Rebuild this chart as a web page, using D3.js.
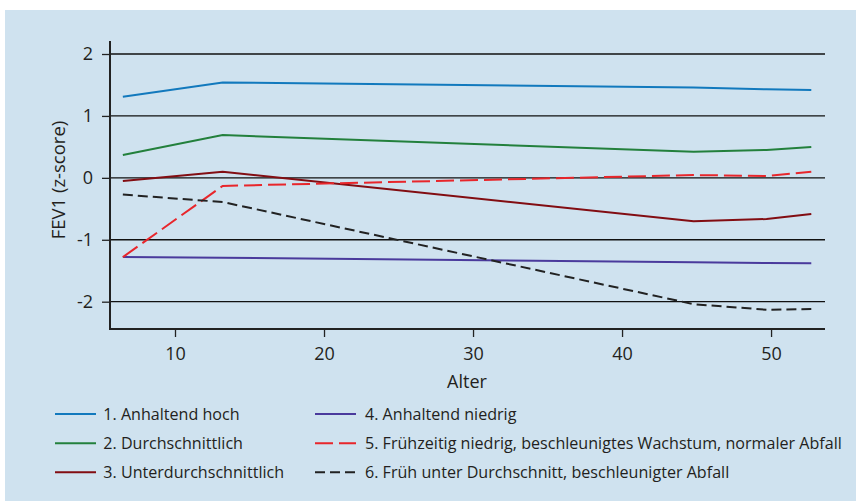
<!DOCTYPE html>
<html><head><meta charset="utf-8">
<script src="https://cdn.jsdelivr.net/npm/d3@7"></script>
<style>
html,body{margin:0;padding:0;background:#fff;}
svg{display:block;font-family:"Open Sans",sans-serif;}
</style></head>
<body>
<svg id="c" width="856" height="501"></svg>
<script>
const ages = [6.5, 13.2, 44.8, 49.7, 52.7];
const seriesNames = [
  "1. Anhaltend hoch",
  "2. Durchschnittlich",
  "3. Unterdurchschnittlich",
  "4. Anhaltend niedrig",
  "5. Frühzeitig niedrig, beschleunigtes Wachstum, normaler Abfall",
  "6. Früh unter Durchschnitt, beschleunigter Abfall"
];
const s1 = [1.31, 1.54, 1.46, 1.43, 1.42];
const s2 = [0.37, 0.69, 0.42, 0.45, 0.50];
const s3 = [-0.05, 0.10, -0.70, -0.665, -0.585];
const s4 = [-1.28, -1.29, -1.365, -1.375, -1.38];
const s5 = [-1.28, -0.13, 0.045, 0.03, 0.10];
const s6 = [-0.27, -0.39, -2.04, -2.13, -2.12];
const xTicks = [10, 20, 30, 40, 50];
const yTicks = [2, 1, 0, -1, -2];

const colors = ["#1279bd", "#23803c", "#820d12", "#4a3a9c", "#e8262b", "#222222"];
const dashes = [null, null, null, null, "18,6", "10,5"];
const values = [s1, s2, s3, s4, s5, s6];

const svg = d3.select("#c");
svg.append("rect").attr("x", 5).attr("y", 10).attr("width", 851).attr("height", 491).attr("fill", "#cfe2ef");

const x = d3.scaleLinear().domain([5.638, 53.62]).range([110, 825]);
const y = d3.scaleLinear().domain([-2.441, 2.21]).range([329, 41]);

// gridlines
svg.append("g").selectAll("line").data(yTicks).join("line")
  .attr("x1", 110).attr("x2", 825)
  .attr("y1", d => y(d)).attr("y2", d => y(d))
  .attr("stroke", "#111").attr("stroke-width", 1.3);

// y axis
const ya = svg.append("g").attr("transform", "translate(110,0)")
  .call(d3.axisLeft(y).tickValues(yTicks).tickSize(8).tickPadding(9).tickFormat(d => String(d)));
ya.select(".domain").remove();
ya.selectAll(".tick line").attr("stroke", "#222").attr("stroke-width", 1.3);
ya.selectAll(".tick text").attr("font-size", 18).attr("fill", "#231f20").attr("font-family", "Open Sans");

// x axis
const xa = svg.append("g").attr("transform", "translate(0,329)")
  .call(d3.axisBottom(x).tickValues(xTicks).tickSize(8).tickPadding(10).tickFormat(d => String(d)));
xa.select(".domain").remove();
xa.selectAll(".tick line").attr("stroke", "#222").attr("stroke-width", 1.3);
xa.selectAll(".tick text").attr("font-size", 18).attr("fill", "#231f20").attr("font-family", "Open Sans");

// axis lines
svg.append("path").attr("d", `M110,41V329H825`).attr("fill", "none").attr("stroke", "#222").attr("stroke-width", 2);

// series lines
const line = d3.line().x((d, i) => x(ages[i])).y(d => y(d));
values.forEach((v, k) => {
  svg.append("path").datum(v).attr("d", line).attr("fill", "none")
    .attr("stroke", colors[k]).attr("stroke-width", 2)
    .attr("stroke-dasharray", dashes[k]);
});

// axis titles
svg.append("text").attr("x", 467).attr("y", 388).attr("text-anchor", "middle")
  .attr("font-size", 18).attr("fill", "#231f20").text("Alter");
svg.append("text").attr("transform", "translate(65,180) rotate(-90)").attr("text-anchor", "middle")
  .attr("font-size", 18.5).attr("fill", "#231f20").text("FEV1 (z-score)");

// legend
const legRows = [414, 443.3, 472.3];
const legCols = [{lx: 55, tx: 103.3}, {lx: 315, tx: 365}];
seriesNames.forEach((name, k) => {
  const col = legCols[Math.floor(k / 3)];
  const ry = legRows[k % 3];
  svg.append("line").attr("x1", col.lx).attr("x2", col.lx + 41).attr("y1", ry).attr("y2", ry)
    .attr("stroke", colors[k]).attr("stroke-width", 2).attr("stroke-dasharray", dashes[k]);
  svg.append("text").attr("x", col.tx).attr("y", ry).attr("dy", "0.36em")
    .attr("font-size", 16.1).attr("fill", "#231f20").text(name);
});
</script>
</body></html>
